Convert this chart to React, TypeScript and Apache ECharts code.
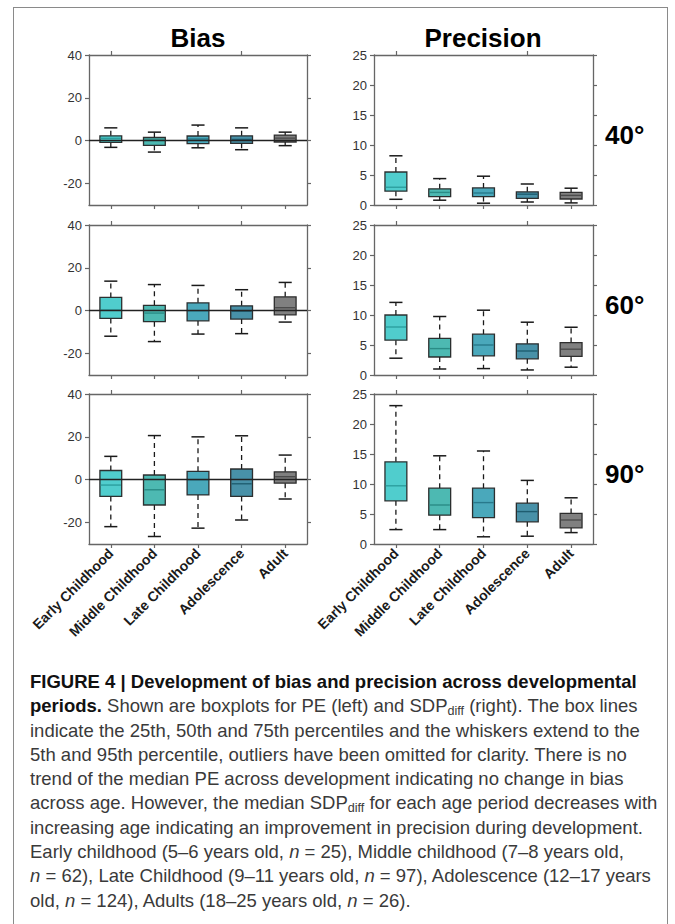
import React, { useEffect, useRef } from "react";
import * as echarts from "echarts";

// Developmental periods on the x axis
const categories = ["Early Childhood", "Middle Childhood", "Late Childhood", "Adolescence", "Adult"];

// Each row: [5th pct, 25th pct, median, 75th pct, 95th pct]
const biasAt40 = [
  [-3.1, -0.8, 1.1, 2.3, 6.0],
  [-5.3, -2.2, 0.3, 1.5, 4.0],
  [-3.3, -1.4, 0.8, 2.2, 7.3],
  [-4.2, -1.2, 0.6, 2.3, 6.0],
  [-2.3, -0.6, 1.2, 2.6, 4.0],
];
const biasAt60 = [
  [-11.9, -3.6, 0.3, 6.2, 13.8],
  [-14.4, -5.1, -1.1, 2.5, 12.2],
  [-10.9, -4.7, 0.0, 3.7, 11.8],
  [-10.7, -3.9, -0.2, 2.3, 9.8],
  [-5.3, -1.9, 1.4, 6.5, 13.2],
];
const biasAt90 = [
  [-21.9, -7.8, -2.5, 4.3, 10.9],
  [-26.5, -11.8, -4.7, 2.2, 20.6],
  [-22.6, -7.1, 0.0, 3.9, 20.0],
  [-18.8, -7.8, -1.9, 5.0, 20.5],
  [-9.0, -1.6, 1.4, 3.7, 11.5],
];
const precisionAt40 = [
  [0.95, 2.3, 2.96, 5.5, 8.2],
  [0.8, 1.4, 2.1, 2.7, 4.4],
  [0.3, 1.4, 2.0, 2.85, 4.8],
  [0.5, 1.1, 1.8, 2.2, 3.5],
  [0.35, 1.0, 1.6, 2.1, 2.8],
];
const precisionAt60 = [
  [2.8, 5.8, 8.0, 10.0, 12.1],
  [1.0, 3.0, 4.4, 6.1, 9.75],
  [1.07, 3.2, 5.0, 6.8, 10.8],
  [0.84, 2.7, 4.0, 5.2, 8.8],
  [1.3, 3.1, 4.3, 5.4, 7.96],
];
const precisionAt90 = [
  [2.4, 7.2, 9.7, 13.7, 23.06],
  [2.4, 4.8, 6.5, 9.3, 14.7],
  [1.2, 4.4, 6.9, 9.3, 15.5],
  [1.3, 3.7, 5.4, 6.8, 10.6],
  [1.9, 2.7, 4.0, 5.1, 7.7],
];

// Axis ticks
const biasTicks = [-20, 0, 20, 40];
const precisionTicks = [0, 5, 10, 15, 20, 25];
const angleLabels = ["40°", "60°", "90°"];

const boxFill = ["#43c9c9", "#40b4ac", "#3ca1b6", "#3a89a1", "#767676"];
const medianStroke = ["#2c9f9f", "#2a8c86", "#28798c", "#1f5d70", "#4c4c4c"];

const FONT = "'Liberation Sans', Arial, Helvetica, sans-serif";

function boxRenderer(params: any, api: any) {
  const idx = api.value(0);
  const lo = api.coord([idx, api.value(1)]);
  const q1 = api.coord([idx, api.value(2)]);
  const med = api.coord([idx, api.value(3)]);
  const q3 = api.coord([idx, api.value(4)]);
  const hi = api.coord([idx, api.value(5)]);
  const band = api.size([1, 0])[0];
  const bw = band * 0.5;
  const cw = band * 0.3;
  const cx = med[0];
  const whisker = { stroke: "#1a1a1a", lineWidth: 1.3, lineDash: [5, 4] };
  const cap = { stroke: "#1a1a1a", lineWidth: 1.5 };
  return {
    type: "group",
    children: [
      { type: "line", shape: { x1: cx, y1: q3[1], x2: cx, y2: hi[1] }, style: whisker },
      { type: "line", shape: { x1: cx, y1: q1[1], x2: cx, y2: lo[1] }, style: whisker },
      { type: "line", shape: { x1: cx - cw / 2, y1: hi[1], x2: cx + cw / 2, y2: hi[1] }, style: cap },
      { type: "line", shape: { x1: cx - cw / 2, y1: lo[1], x2: cx + cw / 2, y2: lo[1] }, style: cap },
      {
        type: "rect",
        shape: { x: cx - bw / 2, y: q3[1], width: bw, height: q1[1] - q3[1] },
        style: { fill: boxFill[idx], opacity: 0.93, stroke: "#222", lineWidth: 1.3 },
      },
      {
        type: "line",
        shape: { x1: cx - bw / 2 + 0.8, y1: med[1], x2: cx + bw / 2 - 0.8, y2: med[1] },
        style: { stroke: medianStroke[idx], lineWidth: 1.4 },
      },
    ],
  };
}

export default function App() {
  const ref = useRef<HTMLDivElement>(null);

  useEffect(() => {
    if (!ref.current) return;
    const chart = echarts.init(ref.current, null, { renderer: "svg" });

    const panels = [
      { data: biasAt40, col: 0, row: 0 },
      { data: precisionAt40, col: 1, row: 0 },
      { data: biasAt60, col: 0, row: 1 },
      { data: precisionAt60, col: 1, row: 1 },
      { data: biasAt90, col: 0, row: 2 },
      { data: precisionAt90, col: 1, row: 2 },
    ];
    const rowTops = [55, 225, 394];
    const colLefts = [89, 374];
    const colWidths = [218, 219];
    const panelHeight = 150;

    const axisLine = { show: true, onZero: false, lineStyle: { color: "#666", width: 1.3 } };
    const grid: any[] = [];
    const xAxis: any[] = [];
    const yAxis: any[] = [];
    const series: any[] = [];

    panels.forEach((p, i) => {
      const isBias = p.col === 0;
      grid.push({ left: colLefts[p.col], top: rowTops[p.row], width: colWidths[p.col], height: panelHeight });
      const catAxis = {
        type: "category",
        data: categories,
        gridIndex: i,
        axisLine,
        axisTick: { show: true, alignWithLabel: true, length: 4, lineStyle: { color: "#666", width: 1.2 } },
        splitLine: { show: false },
      };
      xAxis.push({
        ...catAxis,
        position: "bottom",
        axisLabel: {
          show: p.row === 2,
          rotate: 45,
          interval: 0,
          margin: 7,
          fontFamily: FONT,
          fontWeight: "bold",
          fontSize: 14,
          color: "#1a1a1a",
        },
      });
      xAxis.push({ ...catAxis, position: "top", axisLabel: { show: false } });

      const ticks = isBias ? biasTicks : precisionTicks;
      const valAxis = {
        type: "value",
        gridIndex: i,
        min: isBias ? -30 : 0,
        max: isBias ? 40 : 25,
        axisLine,
        splitLine: { show: false },
        axisTick: { show: true, length: 4, customValues: ticks, lineStyle: { color: "#666", width: 1.2 } },
      };
      yAxis.push({
        ...valAxis,
        position: "left",
        axisLabel: { show: true, customValues: ticks, fontFamily: FONT, fontSize: 13, color: "#333", margin: 7 },
      });
      yAxis.push({ ...valAxis, position: "right", axisLabel: { show: false } });

      if (isBias) {
        series.push({
          type: "line",
          xAxisIndex: 2 * i,
          yAxisIndex: 2 * i,
          data: [],
          z: 1,
          silent: true,
          markLine: {
            silent: true,
            symbol: "none",
            label: { show: false },
            lineStyle: { color: "#222", type: "solid", width: 1.3 },
            data: [{ yAxis: 0 }],
          },
        });
      }
      series.push({
        type: "custom",
        xAxisIndex: 2 * i,
        yAxisIndex: 2 * i,
        z: 3,
        renderItem: boxRenderer,
        encode: { x: 0, y: [1, 2, 3, 4, 5] },
        data: p.data.map((d, k) => [k, ...d]),
      });
    });

    const graphic: any[] = [
      {
        type: "text",
        x: 198,
        y: 38,
        style: { text: "Bias", fill: "#000", font: `bold 26px ${FONT}`, align: "center", verticalAlign: "middle" },
      },
      {
        type: "text",
        x: 483,
        y: 38,
        style: { text: "Precision", fill: "#000", font: `bold 26px ${FONT}`, align: "center", verticalAlign: "middle" },
      },
    ];
    angleLabels.forEach((t, r) => {
      graphic.push({
        type: "text",
        x: 605,
        y: rowTops[r] + panelHeight / 2 + 5,
        style: { text: t, fill: "#000", font: `bold 26px ${FONT}`, align: "left", verticalAlign: "middle" },
      });
    });

    chart.setOption({
      animation: false,
      backgroundColor: "#fff",
      grid,
      xAxis,
      yAxis,
      series,
      graphic,
    });
    return () => chart.dispose();
  }, []);

  const lineStyle: React.CSSProperties = { whiteSpace: "nowrap", height: 24.3 };
  const sub: React.CSSProperties = { fontSize: "0.68em", verticalAlign: "-0.25em" };

  return (
    <div style={{ position: "absolute", left: 0, top: 0, width: 675, height: 924, background: "#fff", overflow: "hidden" }}>
      <div ref={ref} style={{ position: "absolute", left: 0, top: 0, width: 675, height: 660 }} />
      <div
        style={{
          position: "absolute",
          left: 13,
          top: 7,
          width: 655,
          height: 940,
          border: "1.5px solid #8a8a8a",
          boxSizing: "border-box",
          pointerEvents: "none",
        }}
      />
      <div
        style={{
          position: "absolute",
          left: 30,
          top: 670,
          fontFamily: FONT,
          fontSize: 18.5,
          lineHeight: "24.3px",
          color: "#3a3a3a",
        }}
      >
        <div style={{ ...lineStyle, fontWeight: "bold", color: "#111" }}>
          FIGURE 4 | Development of bias and precision across developmental
        </div>
        <div style={lineStyle}>
          <b style={{ color: "#111" }}>periods.</b> Shown are boxplots for PE (left) and SDP<span style={sub}>diff</span> (right). The box lines
        </div>
        <div style={lineStyle}>indicate the 25th, 50th and 75th percentiles and the whiskers extend to the</div>
        <div style={lineStyle}>5th and 95th percentile, outliers have been omitted for clarity. There is no</div>
        <div style={lineStyle}>trend of the median PE across development indicating no change in bias</div>
        <div style={lineStyle}>
          across age. However, the median SDP<span style={sub}>diff</span> for each age period decreases with
        </div>
        <div style={lineStyle}>increasing age indicating an improvement in precision during development.</div>
        <div style={lineStyle}>
          Early childhood (5–6 years old, <i>n</i> = 25), Middle childhood (7–8 years old,
        </div>
        <div style={lineStyle}>
          <i>n</i> = 62), Late Childhood (9–11 years old, <i>n</i> = 97), Adolescence (12–17 years
        </div>
        <div style={lineStyle}>
          old, <i>n</i> = 124), Adults (18–25 years old, <i>n</i> = 26).
        </div>
      </div>
    </div>
  );
}
